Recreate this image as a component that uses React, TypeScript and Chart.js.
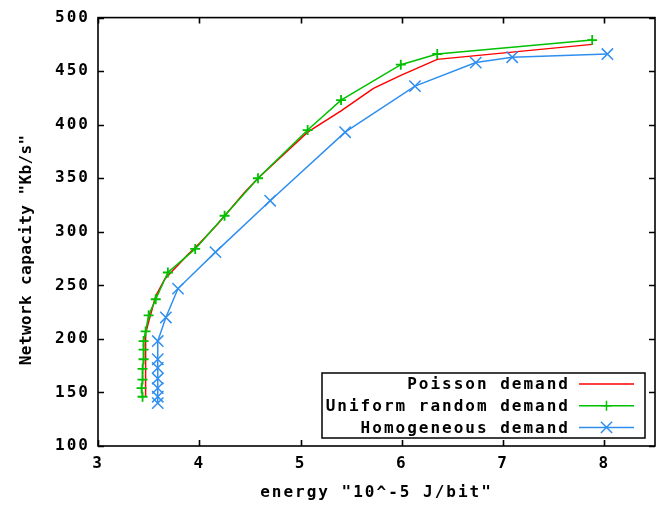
import React, { useEffect, useRef } from 'react';
import { Chart, registerables } from 'chart.js';

Chart.register(...registerables);

// ---- data ----
const poissonEnergy = [3.47, 3.47, 3.47, 3.47, 3.47, 3.47, 3.47, 3.5, 3.57, 3.66, 3.76, 3.88, 4.01, 4.18, 4.44, 4.58, 5.07, 5.4, 5.72, 5.99, 6.35, 7.88];
const poissonCapacity = [146, 155, 165, 175, 185, 195, 205, 216, 240, 256, 266, 278, 290, 307, 336, 350, 393, 413, 434, 446, 461, 475];

const uniformEnergy = [3.44, 3.43, 3.44, 3.44, 3.45, 3.45, 3.45, 3.47, 3.5, 3.57, 3.69, 3.96, 4.25, 4.58, 5.07, 5.4, 5.99, 6.35, 7.88];
const uniformCapacity = [146, 154, 162, 172, 181, 190, 198, 207, 222, 237, 262, 284, 315, 350, 395, 423, 456, 466, 479];

const homogeneousEnergy = [3.59, 3.59, 3.59, 3.59, 3.59, 3.59, 3.59, 3.67, 3.79, 4.16, 4.7, 5.44, 6.13, 6.73, 7.09, 8.03];
const homogeneousCapacity = [140, 146, 154, 163, 173, 181, 198, 220, 247, 281, 329, 393, 436, 458, 463, 466];

const xTicks = [3, 4, 5, 6, 7, 8];
const yTicks = [100, 150, 200, 250, 300, 350, 400, 450, 500];

const seriesLabels = ['Poisson demand', 'Uniform random demand', 'Homogeneous demand'];
const seriesColors = ['#ff0000', '#00c000', '#2f8ff0'];

const xTitle = 'energy "10^-5 J/bit"';
const yTitle = 'Network capacity "Kb/s"';

const FONT = { family: '"DejaVu Sans Mono", monospace', size: 16, weight: 'bold' as const };
const LETTER_SPACING = '2px';

const toPoints = (xs: number[], ys: number[]) => xs.map((x, i) => ({ x, y: ys[i] }));

const spacingPlugin = {
  id: 'spacing',
  beforeUpdate(chart: any) {
    chart.ctx.letterSpacing = LETTER_SPACING;
  },
  beforeDraw(chart: any) {
    chart.ctx.letterSpacing = LETTER_SPACING;
  },
};

const yTitlePlugin = {
  id: 'yTitle',
  afterDraw(chart: any) {
    const { ctx, chartArea: a } = chart;
    ctx.save();
    ctx.letterSpacing = '0.4px';
    ctx.font = `${FONT.weight} ${FONT.size}px ${FONT.family}`;
    ctx.fillStyle = '#000';
    ctx.textAlign = 'center';
    ctx.textBaseline = 'middle';
    ctx.translate(27, (a.top + a.bottom) / 2 + 18);
    ctx.rotate(-Math.PI / 2);
    ctx.fillText(yTitle, 0, 0);
    ctx.restore();
  },
};

const framePlugin = {
  id: 'frame',
  beforeDatasetsDraw(chart: any) {
    const { ctx, chartArea: a, scales } = chart;
    ctx.save();
    ctx.strokeStyle = '#000';
    ctx.lineWidth = 1.6;
    ctx.strokeRect(a.left, a.top, a.right - a.left, a.bottom - a.top);
    const L = 6;
    ctx.beginPath();
    scales.x.ticks.forEach((t: any) => {
      const px = Math.round(scales.x.getPixelForValue(t.value)) + 0.5;
      ctx.moveTo(px, a.bottom);
      ctx.lineTo(px, a.bottom - L);
      ctx.moveTo(px, a.top);
      ctx.lineTo(px, a.top + L);
    });
    scales.y.ticks.forEach((t: any) => {
      const py = Math.round(scales.y.getPixelForValue(t.value)) + 0.5;
      ctx.moveTo(a.left, py);
      ctx.lineTo(a.left + L, py);
      ctx.moveTo(a.right, py);
      ctx.lineTo(a.right - L, py);
    });
    ctx.stroke();
    ctx.restore();
  },
};

const keyPlugin = {
  id: 'key',
  afterDatasetsDraw(chart: any) {
    const { ctx, chartArea: a } = chart;
    const datasets = chart.data.datasets;
    const boxRight = a.right - 10;
    const boxLeft = boxRight - 323;
    const boxBottom = a.bottom - 8;
    const rowH = 21.7;
    const boxTop = boxBottom - 65;
    ctx.save();
    ctx.letterSpacing = LETTER_SPACING;
    ctx.strokeStyle = '#000';
    ctx.lineWidth = 1.5;
    ctx.strokeRect(boxLeft, boxTop, boxRight - boxLeft, boxBottom - boxTop);
    ctx.font = `${FONT.weight} ${FONT.size}px ${FONT.family}`;
    ctx.textAlign = 'right';
    ctx.textBaseline = 'middle';
    const textRight = boxRight - 77;
    const lineL = boxRight - 66;
    const lineR = boxRight - 11;
    datasets.forEach((ds: any, i: number) => {
      const cy = boxTop + 11 + i * rowH;
      ctx.fillStyle = '#000';
      ctx.fillText(ds.label, textRight + 2, cy + 1);
      ctx.strokeStyle = ds.borderColor;
      ctx.lineWidth = 1.5;
      ctx.beginPath();
      ctx.moveTo(lineL, cy);
      ctx.lineTo(lineR, cy);
      ctx.stroke();
      const mx = (lineL + lineR) / 2;
      const r = ds.pointRadius;
      if (r > 0) {
        ctx.beginPath();
        if (ds.pointStyle === 'cross') {
          ctx.moveTo(mx - r, cy);
          ctx.lineTo(mx + r, cy);
          ctx.moveTo(mx, cy - r);
          ctx.lineTo(mx, cy + r);
        } else {
          const d = r * Math.SQRT1_2;
          ctx.moveTo(mx - d, cy - d);
          ctx.lineTo(mx + d, cy + d);
          ctx.moveTo(mx - d, cy + d);
          ctx.lineTo(mx + d, cy - d);
        }
        ctx.stroke();
      }
    });
    ctx.restore();
  },
};

export default function App() {
  const canvasRef = useRef<HTMLCanvasElement | null>(null);

  useEffect(() => {
    if (!canvasRef.current) return;
    const chart = new Chart(canvasRef.current, {
      type: 'line',
      data: {
        datasets: [
          {
            label: seriesLabels[0],
            data: toPoints(poissonEnergy, poissonCapacity),
            borderColor: seriesColors[0],
            backgroundColor: seriesColors[0],
            borderWidth: 1.5,
            pointRadius: 0,
            tension: 0,
            order: 3,
          },
          {
            label: seriesLabels[1],
            data: toPoints(uniformEnergy, uniformCapacity),
            borderColor: seriesColors[1],
            backgroundColor: seriesColors[1],
            borderWidth: 1.5,
            pointStyle: 'cross',
            pointRadius: 5,
            pointBorderWidth: 1.8,
            tension: 0,
            order: 2,
          },
          {
            label: seriesLabels[2],
            data: toPoints(homogeneousEnergy, homogeneousCapacity),
            borderColor: seriesColors[2],
            backgroundColor: seriesColors[2],
            borderWidth: 1.5,
            pointStyle: 'crossRot',
            pointRadius: 8,
            pointBorderWidth: 1.5,
            tension: 0,
            order: 1,
          },
        ] as any,
      },
      options: {
        animation: false,
        responsive: false,
        devicePixelRatio: 1,
        layout: { padding: { left: 0, right: 10, top: 12, bottom: 0 } },
        plugins: {
          legend: { display: false },
          tooltip: { enabled: false },
        },
        scales: {
          x: {
            type: 'linear',
            min: 3,
            max: 8.5,
            afterBuildTicks: (s: any) => {
              s.ticks = xTicks.map((v) => ({ value: v }));
            },
            afterFit: (s: any) => {
              s.height = 61;
            },
            grid: { display: false, drawTicks: false },
            border: { display: false },
            ticks: {
              font: FONT,
              color: '#000',
              padding: 8,
              maxRotation: 0,
              autoSkip: false,
              callback: (v: any) => String(v),
            },
            title: {
              display: true,
              text: xTitle,
              font: FONT,
              color: '#000',
              padding: { top: 0, bottom: 5 },
            },
          },
          y: {
            type: 'linear',
            min: 100,
            max: 500,
            afterBuildTicks: (s: any) => {
              s.ticks = yTicks.map((v) => ({ value: v }));
            },
            afterFit: (s: any) => {
              s.width = 98;
            },
            grid: { display: false, drawTicks: false },
            border: { display: false },
            ticks: {
              font: FONT,
              color: '#000',
              padding: 8,
              autoSkip: false,
              callback: (v: any) => String(v),
            },
            title: { display: false },
          },
        },
      } as any,
      plugins: [spacingPlugin, framePlugin, keyPlugin, yTitlePlugin],
    });
    return () => chart.destroy();
  }, []);

  return (
    <div style={{ position: 'absolute', left: 0, top: 0, width: 665, height: 507, background: '#fff' }}>
      <canvas ref={canvasRef} width={665} height={507} style={{ width: 665, height: 507, display: 'block' }} />
    </div>
  );
}
